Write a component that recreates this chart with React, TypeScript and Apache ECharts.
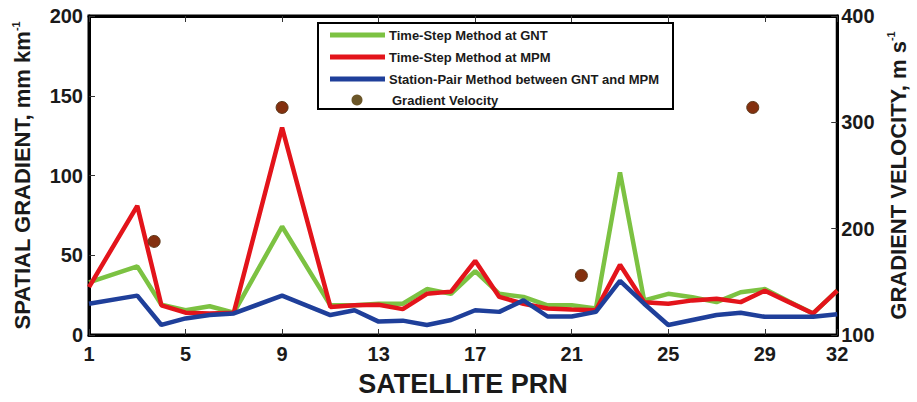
import React, { useEffect, useRef } from "react";
import * as echarts from "echarts";

const prns = [1, 3, 4, 5, 6, 7, 9, 11, 12, 13, 14, 15, 16, 17, 18, 19, 20, 21, 22, 23, 24, 25, 26, 27, 28, 29, 30, 31, 32];
const gntValues = [33, 43, 19, 15.5, 18, 14, 68, 18.6, 18.6, 19.6, 19.6, 28.8, 25.8, 40, 25.8, 23.9, 18.6, 18.6, 16.6, 102, 21.7, 25.8, 23.7, 20.6, 26.8, 28.8, 21, 13.5, 27.8];
const mpmValues = [30, 81, 18.6, 14, 13.5, 14, 130, 17.6, 18.6, 19, 16.2, 25.8, 27.2, 46.5, 23.9, 19.6, 16.6, 16, 15.5, 44, 20.6, 19.6, 21.7, 22.7, 20.6, 27.8, 20.6, 13.5, 27.8];
const pairValues = [19.6, 24.7, 6.3, 10.4, 12.5, 13.5, 24.7, 12.5, 15.5, 8.4, 9, 6.3, 9.4, 15.5, 14.5, 21.7, 11.6, 11.6, 14.5, 34, 19.6, 6.3, 9.4, 12.5, 13.9, 11.4, 11.4, 11.4, 13];
const velocityPrns = [3.7, 9, 21.4, 28.5];
const velocityValues = [188, 314, 156, 314];
const seriesNames = [
  "Time-Step Method at GNT",
  "Time-Step Method at MPM",
  "Station-Pair Method between GNT and MPM",
  "Gradient Velocity",
];

const GREEN = "#7cc242";
const RED = "#e3141b";
const BLUE = "#1f3f9a";
const BROWN = "#84300f";
const FONT = "'Liberation Sans', Arial, sans-serif";
const NARROW = "'Liberation Sans Narrow', 'Arial Narrow', 'Liberation Sans', Arial, sans-serif";

const pairs = (xs: number[], ys: number[]) => xs.map((x, i) => [x, ys[i]]);

export default function App() {
  const ref = useRef<HTMLDivElement>(null);
  useEffect(() => {
    document.body.style.margin = "0";
    if (!ref.current) return;
    const chart = echarts.init(ref.current, undefined, { renderer: "svg" });
    const tickLabel = { color: "#1a1a1a", fontFamily: NARROW, fontWeight: "bold" as const, fontSize: 20 };
    const lineSeries = (name: string, data: number[], color: string) => ({
      name,
      type: "line",
      xAxisIndex: 0,
      yAxisIndex: 0,
      data: pairs(prns, data),
      symbol: "none",
      lineStyle: { color, width: 4.5 },
      itemStyle: { color },
    });
    const legendX = 330;
    const rows = [35, 57, 79, 100];
    const nameRich = {
      a: { color: "#1a1a1a", fontFamily: FONT, fontWeight: "bold", fontSize: 22, lineHeight: 25 },
      s: { color: "#1a1a1a", fontFamily: FONT, fontWeight: "bold", fontSize: 11, verticalAlign: "top", lineHeight: 25 },
    };
    chart.setOption({
      animation: false,
      backgroundColor: "#fff",
      grid: { left: 89, right: 71, top: 16, bottom: 60, show: true, borderColor: "#000", borderWidth: 3, backgroundColor: "transparent" },
      xAxis: [
        {
          type: "value",
          position: "bottom",
          min: 1,
          max: 32,
          interval: 4,
          name: "SATELLITE PRN",
          nameLocation: "middle",
          nameGap: 35,
          nameTextStyle: { color: "#1a1a1a", fontFamily: FONT, fontWeight: "bold", fontSize: 27 },
          axisLine: { show: true, lineStyle: { color: "#000", width: 3 } },
          axisTick: { show: true, inside: true, length: 6, lineStyle: { color: "#333" } },
          axisLabel: { ...tickLabel, margin: 9, showMaxLabel: true },
          splitLine: { show: false },
        },
        {
          type: "value",
          position: "top",
          min: 1,
          max: 32,
          interval: 4,
          axisLine: { show: true, lineStyle: { color: "#000", width: 3 } },
          axisTick: { show: true, inside: true, length: 6, lineStyle: { color: "#333" } },
          axisLabel: { show: false },
          splitLine: { show: false },
        },
      ],
      yAxis: [
        {
          type: "value",
          position: "left",
          min: 0,
          max: 200,
          interval: 50,
          name: "{a|SPATIAL GRADIENT, mm km}{s|-1}",
          nameLocation: "middle",
          nameRotate: 90,
          nameGap: 54,
          nameTextStyle: { rich: nameRich },
          axisLine: { show: true, lineStyle: { color: "#000", width: 3 } },
          axisTick: { show: true, inside: true, length: 6, lineStyle: { color: "#333" } },
          axisLabel: { ...tickLabel, margin: 6 },
          splitLine: { show: false },
        },
        {
          type: "value",
          position: "right",
          min: 100,
          max: 400,
          interval: 100,
          name: "{a|GRADIENT VELOCITY, m s}{s|-1}",
          nameLocation: "middle",
          nameRotate: 90,
          nameGap: 40,
          nameTextStyle: { rich: nameRich },
          axisLine: { show: true, lineStyle: { color: "#000", width: 3 } },
          axisTick: { show: true, inside: true, length: 6, lineStyle: { color: "#333" } },
          axisLabel: { ...tickLabel, margin: 4 },
          splitLine: { show: false },
        },
      ],
      series: [
        lineSeries(seriesNames[0], gntValues, GREEN),
        lineSeries(seriesNames[1], mpmValues, RED),
        lineSeries(seriesNames[2], pairValues, BLUE),
        {
          name: seriesNames[3],
          type: "scatter",
          xAxisIndex: 0,
          yAxisIndex: 1,
          data: pairs(velocityPrns, velocityValues),
          symbol: "circle",
          symbolSize: 12,
          itemStyle: { color: BROWN, borderColor: "#5e3a1c", borderWidth: 1, opacity: 1 },
          z: 5,
        },
      ],
      graphic: [
        {
          type: "rect",
          shape: { x: 318, y: 23, width: 355, height: 86 },
          style: { fill: "#fff", stroke: "#000", lineWidth: 2 },
          z: 100,
        },
        ...[GREEN, RED, BLUE].map((c, i) => ({
          type: "line",
          shape: { x1: legendX, y1: rows[i], x2: legendX + 55, y2: rows[i] },
          style: { stroke: c, lineWidth: 5 },
          z: 101,
        })),
        {
          type: "circle",
          shape: { cx: legendX + 27, cy: rows[3], r: 5.5 },
          style: { fill: "#6b5628" },
          z: 101,
        },
        ...seriesNames.map((n, i) => ({
          type: "text",
          x: i === 3 ? 392 : 389,
          y: rows[i],
          style: {
            text: n,
            fill: "#1a1a1a",
            font: `bold 13px ${FONT}`,
            verticalAlign: "middle",
          },
          z: 101,
        })),
      ],
    });
    return () => chart.dispose();
  }, []);
  return <div ref={ref} style={{ width: 917, height: 402 }} />;
}
